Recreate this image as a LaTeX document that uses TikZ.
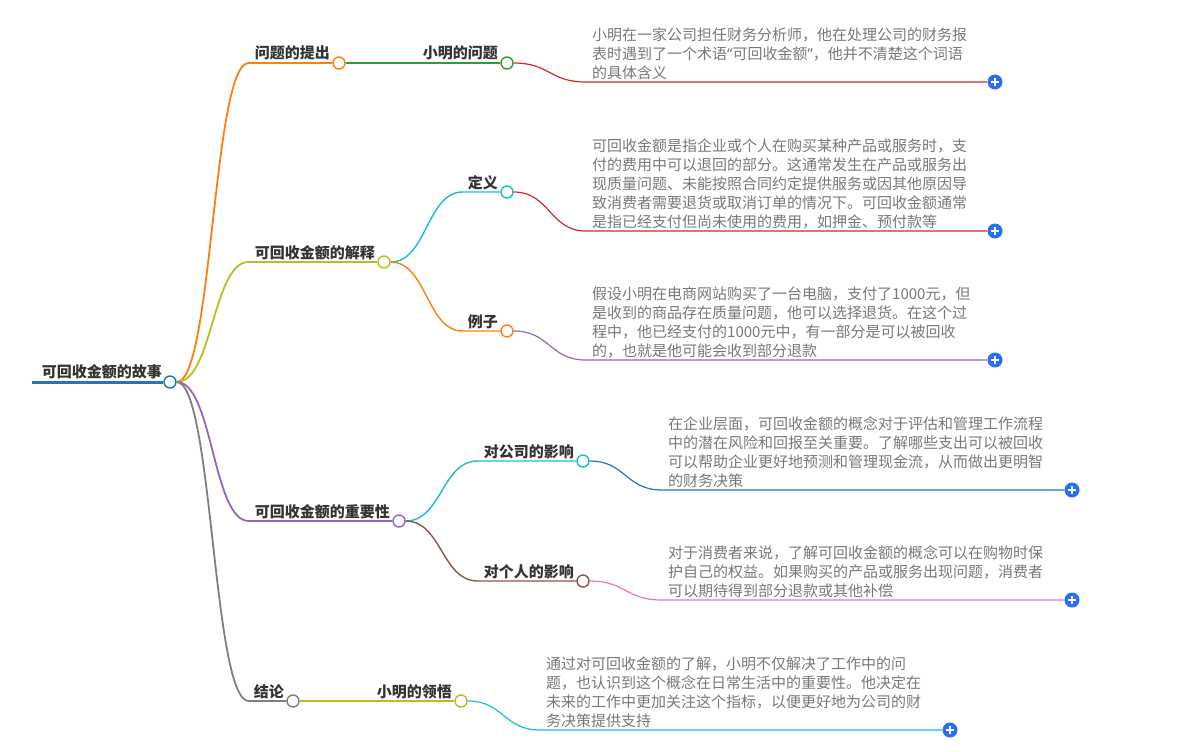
\documentclass[tikz,border=0pt]{standalone}
\usepackage{fontspec}
\setmainfont{Noto Sans CJK SC}
\newfontfamily\latinq{Noto Sans}
\usepackage{tikz}
\usetikzlibrary{calc}

\definecolor{mmBlue}{RGB}{31,119,180}
\definecolor{mmOrange}{RGB}{255,127,14}
\definecolor{mmGreen}{RGB}{44,160,44}
\definecolor{mmRed}{RGB}{214,39,40}
\definecolor{mmPurple}{RGB}{148,103,189}
\definecolor{mmBrown}{RGB}{140,86,75}
\definecolor{mmPink}{RGB}{227,119,194}
\definecolor{mmGray}{RGB}{127,127,127}
\definecolor{mmOlive}{RGB}{188,189,34}
\definecolor{mmCyan}{RGB}{23,190,207}
\definecolor{plusBlue}{RGB}{41,112,240}
\definecolor{labText}{RGB}{51,51,51}
\definecolor{leafText}{RGB}{120,120,120}

\newcommand{\twig}[3]{\draw[#1] (#2.east) .. controls +(36,0) and +(-36,0) .. ([xshift=72pt]#2.east |- #3) -- (#3);}

\begin{document}
\begin{tikzpicture}[x=1pt, y=-1pt]
  \tikzstyle{dot}=[circle, fill=white, line width=1.4pt, minimum size=12pt, inner sep=0pt]
  \tikzstyle{plus}=[circle, fill=plusBlue, minimum size=15pt, inner sep=0pt,
    path picture={\draw[white, line width=1.5pt]
      ([xshift=-4pt]path picture bounding box.center) -- ([xshift=4pt]path picture bounding box.center)
      ([yshift=-4pt]path picture bounding box.center) -- ([yshift=4pt]path picture bounding box.center);}]
  \tikzstyle{lab}=[anchor=base east, inner sep=0pt, text=labText, font=\fontsize{15pt}{18pt}\selectfont\bfseries]
  \tikzstyle{leaf}=[anchor=south west, inner sep=0pt, align=left, text=leafText, font=\fontsize{15pt}{19pt}\selectfont]
  \useasboundingbox (0,0) rectangle (1199,752);

  \coordinate (rootstart) at (32,382);
  \node[dot, draw=mmBlue] (root) at (170,382) {};
  \node[dot, draw=mmOrange] (n1) at (339,63) {};
  \node[dot, draw=mmOlive] (n2) at (384,262) {};
  \node[dot, draw=mmPurple] (n3) at (399,521) {};
  \node[dot, draw=mmGray] (n4) at (293,701) {};
  \node[dot, draw=mmGreen] (m1) at (507,63) {};
  \node[dot, draw=mmCyan] (m2) at (507,192) {};
  \node[dot, draw=mmOrange] (m3) at (507,331) {};
  \node[dot, draw=mmCyan] (m4) at (583,461) {};
  \node[dot, draw=mmBrown] (m5) at (583,581) {};
  \node[dot, draw=mmOlive] (m6) at (461,701) {};
  \node[plus] (p1) at (995,82) {};
  \node[plus] (p2) at (995,231) {};
  \node[plus] (p3) at (995,360) {};
  \node[plus] (p4) at (1072,490) {};
  \node[plus] (p5) at (1072,600) {};
  \node[plus] (p6) at (950,730) {};

  \draw[mmBlue, line width=3pt] (rootstart) -- (root);
  \twig{mmOrange, line width=1.8pt}{root}{n1}
  \twig{mmOlive, line width=1.8pt}{root}{n2}
  \twig{mmPurple, line width=1.8pt}{root}{n3}
  \twig{mmGray, line width=1.8pt}{root}{n4}
  \twig{mmGreen, line width=1.4pt}{n1}{m1}
  \twig{mmCyan, line width=1.4pt}{n2}{m2}
  \twig{mmOrange, line width=1.4pt}{n2}{m3}
  \twig{mmCyan, line width=1.4pt}{n3}{m4}
  \twig{mmBrown, line width=1.4pt}{n3}{m5}
  \twig{mmOlive, line width=1.4pt}{n4}{m6}
  \twig{mmRed, line width=1.2pt}{m1}{p1}
  \twig{mmRed, line width=1.2pt}{m2}{p2}
  \twig{mmPurple, line width=1.2pt}{m3}{p3}
  \twig{mmBlue, line width=1.2pt}{m4}{p4}
  \twig{mmPink, line width=1.2pt}{m5}{p5}
  \twig{mmCyan, line width=1.2pt}{m6}{p6}

  \node[lab] (troot) at ([shift={(-8pt,5pt)}]root.center) {可回收金额的故事};
  \node[lab] (t1) at ([shift={(-9pt,4pt)}]n1.center) {问题的提出};
  \node[lab] (t2) at ([shift={(-9pt,4pt)}]n2.center) {可回收金额的解释};
  \node[lab] (t3) at ([shift={(-9pt,4pt)}]n3.center) {可回收金额的重要性};
  \node[lab] (t4) at ([shift={(-9pt,4pt)}]n4.center) {结论};
  \node[lab] (t5) at ([shift={(-9pt,4pt)}]m1.center) {小明的问题};
  \node[lab] (t6) at ([shift={(-9pt,4pt)}]m2.center) {定义};
  \node[lab] (t7) at ([shift={(-9pt,4pt)}]m3.center) {例子};
  \node[lab] (t8) at ([shift={(-9pt,4pt)}]m4.center) {对公司的影响};
  \node[lab] (t9) at ([shift={(-9pt,4pt)}]m5.center) {对个人的影响};
  \node[lab] (t10) at ([shift={(-9pt,4pt)}]m6.center) {小明的领悟};

  \node[leaf] (d1) at (592,80) {小明在一家公司担任财务分析师，他在处理公司的财务报\\表时遇到了一个术语{\latinq “}可回收金额{\latinq ”}，他并不清楚这个词语\\的具体含义};
  \node[leaf] (d2) at (592,229) {可回收金额是指企业或个人在购买某种产品或服务时，支\\付的费用中可以退回的部分。这通常发生在产品或服务出\\现质量问题、未能按照合同约定提供服务或因其他原因导\\致消费者需要退货或取消订单的情况下。可回收金额通常\\是指已经支付但尚未使用的费用，如押金、预付款等};
  \node[leaf] (d3) at (592,358) {假设小明在电商网站购买了一台电脑，支付了1000元，但\\是收到的商品存在质量问题，他可以选择退货。在这个过\\程中，他已经支付的1000元中，有一部分是可以被回收\\的，也就是他可能会收到部分退款};
  \node[leaf] (d4) at (668,488) {在企业层面，可回收金额的概念对于评估和管理工作流程\\中的潜在风险和回报至关重要。了解哪些支出可以被回收\\可以帮助企业更好地预测和管理现金流，从而做出更明智\\的财务决策};
  \node[leaf] (d5) at (668,598) {对于消费者来说，了解可回收金额的概念可以在购物时保\\护自己的权益。如果购买的产品或服务出现问题，消费者\\可以期待得到部分退款或其他补偿};
  \node[leaf] (d6) at (546,728) {通过对可回收金额的了解，小明不仅解决了工作中的问\\题，也认识到这个概念在日常生活中的重要性。他决定在\\未来的工作中更加关注这个指标，以便更好地为公司的财\\务决策提供支持};
\end{tikzpicture}
\end{document}
